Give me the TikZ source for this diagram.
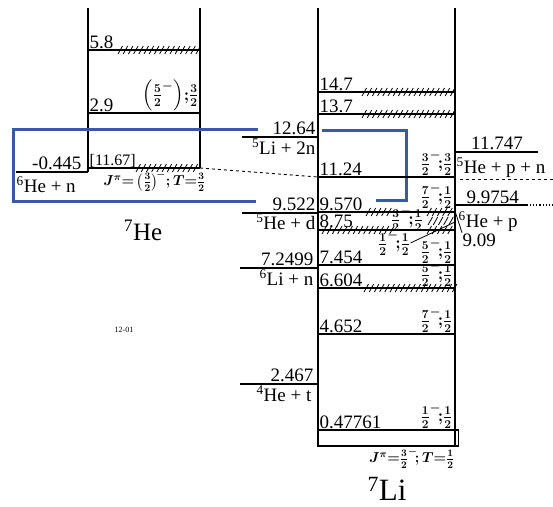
\documentclass[tikz,border=0pt]{standalone}
\usepackage{amsmath}
\usepackage{fontspec}
\setmainfont{Liberation Serif}
\usetikzlibrary{positioning}
\definecolor{boxblue}{RGB}{58,88,168}
% short slanted strokes across a level: start x, y, number of strokes
\newcommand{\hatchlevel}[3]{%
  \foreach \i in {0,...,#3}
    \draw[hstroke] ({#1+5.2*\i},{#2+4}) -- ++(4.5,-8);}

\begin{document}
\begin{tikzpicture}[x=1pt,y=-1pt,
    level/.style={line width=1.1pt},
    gslevel/.style={line width=2pt},
    col/.style={line width=1.2pt},
    hstroke/.style={line width=0.8pt},
    num/.style={font=\fontsize{19}{20}\selectfont,inner sep=0.5pt},
    reac/.style={font=\fontsize{19}{20}\selectfont,inner sep=0.5pt},
    jp/.style={font=\fontsize{18}{19}\selectfont\boldmath,inner sep=0.5pt},
    jgs/.style={font=\fontsize{14}{15}\selectfont\boldmath,inner sep=0.5pt},
    nuc/.style={font=\fontsize{25}{27}\selectfont,inner sep=0pt},
    blueline/.style={boxblue,line width=3pt}]
  \useasboundingbox (0,0) rectangle (553,506);

  % 7He
  \draw[col] (88,8) -- (88,172);
  \draw[col,line width=2pt] (200,8) -- (200,168);
  \draw[level] (88,50) -- (200,50);
  \hatchlevel{118}{50}{15}
  \node[num,anchor=base west] (he58) at (89,48) {5.8};
  \draw[level] (88,113) -- (200,113);
  \node[num,anchor=base west] (he29) at (89,111) {2.9};
  \node[jp,anchor=south east] (jhe29) at (199,112) {$\left(\frac{5}{2}^{-}\right)\!{;}\frac{3}{2}$};
  \draw[level] (88,168) -- (200,168);
  \hatchlevel{136}{168}{11}
  \node[font=\fontsize{16}{17}\selectfont,inner sep=0.5pt,anchor=base west] (he1167) at (89,165) {[11.67]};
  \node[jgs,anchor=north east] (jhe) at (206,170) {$J^{\pi}{=}\left(\frac{3}{2}\right)^{\!-}\!{;}\,T{=}\frac{3}{2}$};
  \draw[level] (16,172) -- (88,172);
  \node[num,anchor=base east] (thn) at (82,169) {-0.445};
  \node[reac,anchor=base west] (hen) at (16,192) {\textsuperscript{6}He + n};
  \node[nuc,anchor=center] (he7) at (143,230) {\textsuperscript{7}He};
  \node[font=\fontsize{8}{9}\selectfont] (fig) at (124,330) {12-01};

  % link between 7He and 7Li
  \draw[level,dashed,line width=0.9pt] (200,168) -- (318,177);

  % blue frames
  \draw[blueline] (258,129) -- (13,129) -- (13,201) -- (256,201);
  \draw[blueline] (322,130) -- (406,130) -- (406,200) -- (376,200);

  % thresholds left of 7Li
  \draw[level] (242,137) -- (318,137);
  \node[num,anchor=base east] (t1264) at (316,134) {12.64};
  \node[reac,anchor=base east] (r1264) at (316,154) {\textsuperscript{5}Li + 2n};
  \draw[level] (242,213) -- (318,213);
  \node[num,anchor=base east] (t9522) at (316,210) {9.522};
  \node[reac,anchor=base east] (r9522) at (316,229) {\textsuperscript{5}He + d};
  \draw[level] (240,268) -- (318,268);
  \node[num,anchor=base east] (t72499) at (314,265) {7.2499};
  \node[reac,anchor=base east] (r72499) at (314,285) {\textsuperscript{6}Li + n};
  \draw[level] (240,384) -- (318,384);
  \node[num,anchor=base east] (t2467) at (314,381) {2.467};
  \node[reac,anchor=base east] (r2467) at (312,401) {\textsuperscript{4}He + t};

  % 7Li
  \draw[col,line width=2.2pt] (318,8) -- (318,447);
  \draw[col] (455,8) -- (455,446);
  \draw[level] (318,92) -- (455,92);
  \hatchlevel{362}{92}{17}
  \node[num,anchor=base west] (li147) at (319,90) {14.7};
  \draw[level] (318,114) -- (455,114);
  \hatchlevel{362}{114}{17}
  \node[num,anchor=base west] (li137) at (319,112) {13.7};
  \draw[level] (318,177) -- (455,177);
  \node[num,anchor=base west] (li1124) at (319,175) {11.24};
  \node[jp,anchor=south east] (jli1124) at (453,176) {$\frac{3}{2}^{-}\!{;}\frac{3}{2}$};
  \draw[level] (318,212) -- (455,212);
  \hatchlevel{366}{212}{4}
  \hatchlevel{427}{212}{4}
  \node[num,anchor=base west] (li957) at (319,210) {9.570};
  \node[jp,anchor=south east] (jli957) at (453,209) {$\frac{7}{2}^{-}\!{;}\frac{1}{2}$};
  \hatchlevel{428}{221}{4}
  \node[num,anchor=base west] (li909) at (462,246) {9.09};
  \draw[line width=0.8pt] (455,211) -- (li909.north west);
  \draw[level] (318,230) -- (455,230);
  \hatchlevel{322}{230}{13}
  \hatchlevel{427}{230}{4}
  \node[num,anchor=base west] (li875) at (319,227) {8.75};
  \node[jp,anchor=center] (jli875) at (407,219) {$\frac{3}{2}^{-}\!{;}\frac{1}{2}$};
  \node[jp,anchor=center] (jli909) at (394,243) {$\frac{1}{2}^{-}\!{;}\frac{1}{2}$};
  \draw[line width=0.8pt] (jli909.east) -- (455,222);
  \draw[level] (318,265) -- (455,265);
  \node[num,anchor=base west] (li7454) at (319,263) {7.454};
  \node[jp,anchor=south east] (jli7454) at (453,264) {$\frac{5}{2}^{-}\!{;}\frac{1}{2}$};
  \draw[level] (318,288) -- (455,288);
  \hatchlevel{364}{288}{17}
  \node[num,anchor=base west] (li6604) at (319,286) {6.604};
  \node[jp,anchor=south east] (jli6604) at (453,287) {$\frac{5}{2}^{-}\!{;}\frac{1}{2}$};
  \draw[level,line width=1.7pt] (318,334) -- (455,334);
  \node[num,anchor=base west] (li4652) at (319,332) {4.652};
  \node[jp,anchor=south east] (jli4652) at (453,333) {$\frac{7}{2}^{-}\!{;}\frac{1}{2}$};
  \draw[level] (318,430) -- (459,430);
  \node[num,anchor=base west] (li0478) at (319,428) {0.47761};
  \node[jp,anchor=south east] (jli0478) at (453,429) {$\frac{1}{2}^{-}\!{;}\frac{1}{2}$};
  \draw[line width=0.5pt] (458,430) -- (458,446);
  \draw[gslevel] (318,446) -- (459,446);
  \node[jgs,anchor=north east] (jli) at (455,447) {$J^{\pi}{=}\frac{3}{2}^{-}\!{;}\,T{=}\frac{1}{2}$};
  \node[nuc,font=\fontsize{31}{33}\selectfont,anchor=center] (li7) at (387,489) {\textsuperscript{7}Li};

  % thresholds right of 7Li
  \draw[level] (455,152) -- (538,152);
  \node[num,anchor=base] (t11747) at (497,149) {11.747};
  \node[reac,anchor=base west] (r11747) at (456,173) {\textsuperscript{5}He + p + n};
  \draw[level,dashed,line width=0.9pt] (460,179) -- (553,179);
  \draw[level] (455,205) -- (527,205);
  \draw[level,dotted] (527,205) -- (553,205);
  \node[num,anchor=base west] (t99754) at (466,203) {9.9754};
  \node[reac,anchor=base west] (r99754) at (458,227) {\textsuperscript{6}He + p};
\end{tikzpicture}
\end{document}
